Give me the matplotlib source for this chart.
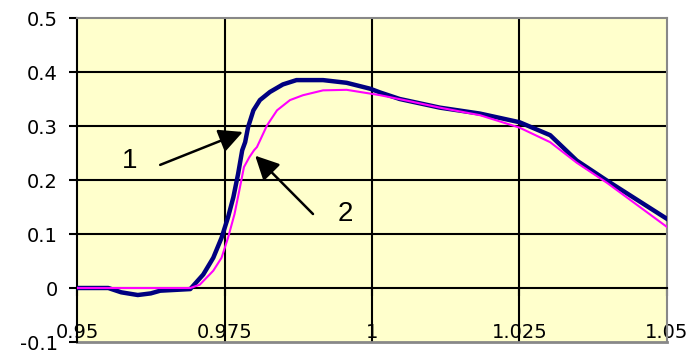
import matplotlib.pyplot as plt
import numpy as np

# curve 1 (thick navy)
x1 = [0.95, 0.9553, 0.9575, 0.9603, 0.9625, 0.9641, 0.9692, 0.9714, 0.9731, 0.9745,
      0.9756, 0.9765, 0.9773, 0.978, 0.9785, 0.979, 0.9799, 0.981, 0.9827, 0.9849,
      0.9872, 0.9917, 0.9957, 0.9997, 1.0014, 1.0047, 1.0115, 1.0183, 1.025, 1.0302,
      1.0347, 1.0398, 1.05]
y1 = [0.0, 0.0, -0.008, -0.013, -0.010, -0.005, -0.002, 0.025, 0.056, 0.093,
      0.131, 0.168, 0.211, 0.255, 0.270, 0.298, 0.329, 0.348, 0.363, 0.377,
      0.385, 0.385, 0.380, 0.369, 0.362, 0.350, 0.334, 0.323, 0.307, 0.283,
      0.236, 0.199, 0.128]

# curve 2 (thin magenta)
x2 = [0.95, 0.9692, 0.9708, 0.9731, 0.9745, 0.9756, 0.9767, 0.9775, 0.9783, 0.9792,
      0.9800, 0.9805, 0.9822, 0.9839, 0.9861, 0.9883, 0.9917, 0.9957, 0.9997, 1.0014,
      1.0059, 1.0115, 1.0183, 1.025, 1.0302, 1.0347, 1.0398, 1.05]
y2 = [0.0, 0.0, 0.006, 0.032, 0.056, 0.093, 0.137, 0.180, 0.224, 0.242,
      0.255, 0.261, 0.301, 0.329, 0.348, 0.357, 0.366, 0.367, 0.360, 0.357,
      0.347, 0.334, 0.320, 0.297, 0.270, 0.232, 0.195, 0.113]

xticks = [0.95, 0.975, 1.0, 1.025, 1.05]
xticklabels = ['0.95', '0.975', '1', '1.025', '1.05']
yticks = [-0.1, 0, 0.1, 0.2, 0.3, 0.4, 0.5]
yticklabels = ['-0.1', '0', '0.1', '0.2', '0.3', '0.4', '0.5']

fig = plt.figure(figsize=(6.93, 3.56), dpi=100)
ax = fig.add_axes([77/693, 1 - 342/356, 590/693, 324/356])
ax.set_facecolor('#FFFFCC')
ax.set_xlim(0.95, 1.05)
ax.set_ylim(-0.1, 0.5)

# grid
for gx in [0.975, 1.0, 1.025]:
    ax.axvline(gx, color='black', lw=1.5, zorder=1)
for gy in [0.1, 0.2, 0.3, 0.4]:
    ax.axhline(gy, color='black', lw=1.5, zorder=1)

# border: grey on top/right/bottom, black left, x axis through zero
ax.spines['top'].set_color('#888888')
ax.spines['right'].set_color('#888888')
ax.spines['top'].set_linewidth(1.5)
ax.spines['right'].set_linewidth(1.5)
ax.axhline(-0.1, color='#888888', lw=2, zorder=1, clip_on=False)
ax.spines['left'].set_color('black')
ax.spines['left'].set_linewidth(1.5)
ax.spines['bottom'].set_position(('data', 0))
ax.spines['bottom'].set_color('black')
ax.spines['bottom'].set_linewidth(1.5)

ax.set_xticks(xticks)
ax.set_xticklabels(xticklabels)
ax.set_yticks(yticks)
ax.set_yticklabels(yticklabels)
ax.tick_params(axis='x', direction='out', length=6, width=1.5, pad=19, labelsize=14)
ax.tick_params(axis='y', direction='out', length=6, width=1.5, pad=8, labelsize=14)

ax.plot(x1, y1, color='#000080', lw=3.2, zorder=3, solid_joinstyle='round')
ax.plot(x2, y2, color='#FF00FF', lw=1.5, zorder=3, solid_joinstyle='round')

arrow = dict(arrowstyle='-|>,head_length=0.8,head_width=0.4', color='black',
             lw=1.8, mutation_scale=18, shrinkA=0, shrinkB=0)
ax.annotate('', xy=(0.9781, 0.289), xytext=(0.9641, 0.228), arrowprops=arrow, zorder=4)
ax.annotate('', xy=(0.9802, 0.245), xytext=(0.9900, 0.137), arrowprops=arrow, zorder=4)
ax.text(0.9590, 0.236, '1', fontsize=20, family='Liberation Sans', ha='center', va='center')
ax.text(0.9955, 0.137, '2', fontsize=20, family='Liberation Sans', ha='center', va='center')

fig.savefig('out.png', dpi=100)
